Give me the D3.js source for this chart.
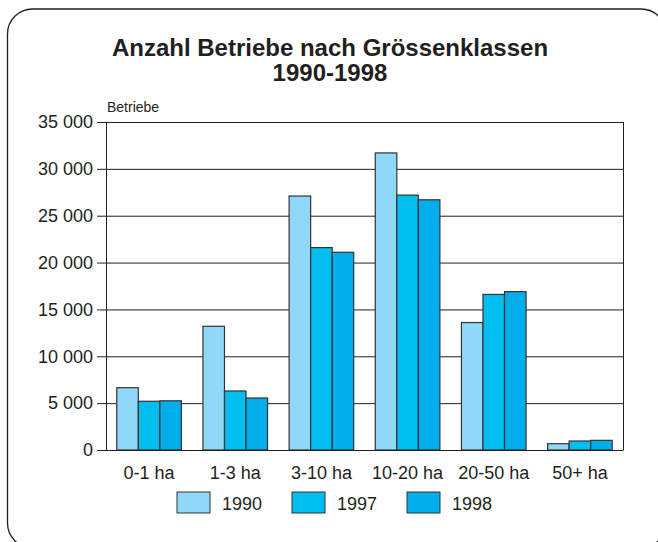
<!DOCTYPE html>
<html>
  <head>
    <meta charset="utf-8">
    <title>Anzahl Betriebe nach Grössenklassen</title>
    <script src="https://d3js.org/d3.v7.min.js"></script>
    <style>
      body { margin: 0; background: #fff; overflow: hidden; }
      text { font-family: Arial, "Liberation Sans", sans-serif; fill: #231f20; }
    </style>
  </head>
  <body>
    <script>
      var width = 658;
      var height = 542;

      var categories = ["0-1 ha", "1-3 ha", "3-10 ha", "10-20 ha", "20-50 ha", "50+ ha"];
      var years = ["1990", "1997", "1998"];
      var values1990 = [6650, 13200, 27100, 31700, 13600, 670];
      var values1997 = [5200, 6300, 21600, 27200, 16600, 960];
      var values1998 = [5250, 5550, 21100, 26700, 16900, 1030];
      var yTicks = [0, 5000, 10000, 15000, 20000, 25000, 30000, 35000];
      var colors = ["#8fd8f8", "#00bff0", "#00aeec"];

      var series = [values1990, values1997, values1998];

      var plotLeft = 106, plotRight = 623, plotTop = 122, plotBottom = 450;

      var x = d3.scaleBand()
          .domain(categories)
          .range([plotLeft, plotRight])
          .paddingInner(0.25)
          .paddingOuter(0.125);

      var xInner = d3.scaleBand()
          .domain(years)
          .range([0, x.bandwidth()]);

      var y = d3.scaleLinear()
          .domain([0, 35000])
          .range([plotBottom, plotTop]);

      var fmt = function(d) { return d3.format(",")(d).replace(",", " "); };

      var svg = d3.select("body")
        .append("svg")
          .attr("width", width)
          .attr("height", height);

      // frame
      svg.append("rect")
          .attr("x", 7.5)
          .attr("y", 9)
          .attr("width", 658.5)
          .attr("height", 539)
          .attr("rx", 25)
          .attr("fill", "none")
          .attr("stroke", "#231f20")
          .attr("stroke-width", 1.3);

      svg.append("text")
          .attr("x", 330)
          .attr("y", 56)
          .attr("text-anchor", "middle")
          .style("font-size", "24px")
          .style("font-weight", "bold")
          .text("Anzahl Betriebe nach Grössenklassen");

      svg.append("text")
          .attr("x", 330)
          .attr("y", 81)
          .attr("text-anchor", "middle")
          .style("font-size", "24px")
          .style("font-weight", "bold")
          .text("1990-1998");

      svg.append("text")
          .attr("x", 107)
          .attr("y", 112)
          .style("font-size", "14px")
          .text("Betriebe");

      // y axis with grid
      var yAxis = d3.axisLeft(y)
          .tickValues(yTicks)
          .tickFormat(fmt)
          .tickSize(9)
          .tickPadding(4);

      var gy = svg.append("g")
          .attr("transform", "translate(" + plotLeft + ",0)")
          .call(yAxis);
      gy.select(".domain").attr("stroke", "#231f20");
      gy.selectAll(".tick line").attr("stroke", "#231f20");
      gy.selectAll(".tick text")
          .style("font-size", "18px")
          .style("font-family", "Arial, 'Liberation Sans', sans-serif")
          .attr("fill", "#231f20");
      gy.selectAll(".tick")
        .append("line")
          .attr("x1", 0)
          .attr("x2", plotRight - plotLeft)
          .attr("stroke", "#231f20");

      // right border
      svg.append("line")
          .attr("x1", plotRight + 0.5)
          .attr("x2", plotRight + 0.5)
          .attr("y1", plotTop)
          .attr("y2", plotBottom)
          .attr("stroke", "#231f20");

      // bars
      var groups = svg.append("g")
        .selectAll("g")
        .data(categories)
        .enter()
        .append("g")
          .attr("transform", function(d) { return "translate(" + x(d) + ",0)"; });

      groups.selectAll("rect")
        .data(function(d, i) {
          return years.map(function(yr, j) { return {year: yr, value: series[j][i], idx: j}; });
        })
        .enter()
        .append("rect")
          .attr("x", function(d) { return xInner(d.year); })
          .attr("y", function(d) { return y(d.value); })
          .attr("width", xInner.bandwidth())
          .attr("height", function(d) { return y(0) - y(d.value); })
          .attr("fill", function(d) { return colors[d.idx]; })
          .attr("stroke", "#333")
          .attr("stroke-width", 1.2);

      // x axis
      var gx = svg.append("g")
          .attr("transform", "translate(0," + plotBottom + ")")
          .call(d3.axisBottom(x).tickSize(0).tickPadding(16));
      gx.select(".domain").attr("stroke", "#231f20");
      gx.selectAll(".tick text")
          .style("font-size", "18px")
          .style("font-family", "Arial, 'Liberation Sans', sans-serif")
          .attr("fill", "#231f20");

      // legend
      var legend = svg.append("g")
        .selectAll("g")
        .data(years)
        .enter()
        .append("g")
          .attr("transform", function(d, i) { return "translate(" + (177 + i * 115) + ",492)"; });
      legend.append("rect")
          .attr("width", 33)
          .attr("height", 21)
          .attr("fill", function(d, i) { return colors[i]; })
          .attr("stroke", "#333");
      legend.append("text")
          .attr("x", 45)
          .attr("y", 18)
          .style("font-size", "18px")
          .text(function(d) { return d; });
    </script>
  </body>
</html>
